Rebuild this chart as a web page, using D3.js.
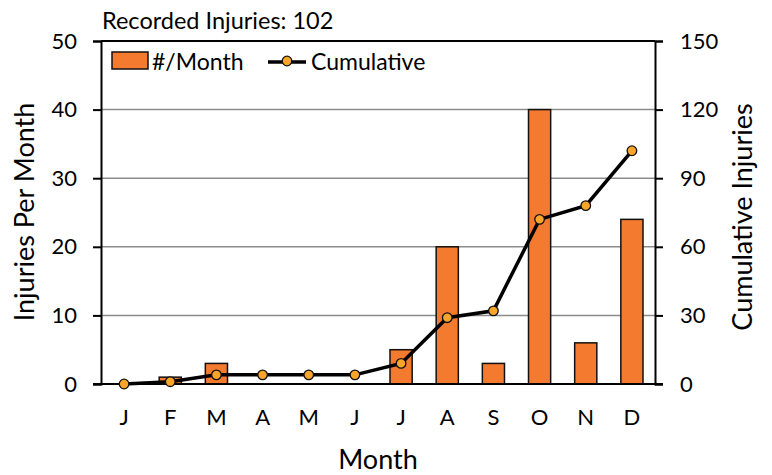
<!DOCTYPE html>
<html><head><meta charset="utf-8">
<script src="https://cdn.jsdelivr.net/npm/d3@7"></script>
<style>body{margin:0;background:#fff}text{font-family:Lato,"Open Sans",sans-serif;fill:#000}</style>
</head><body><svg id="c" width="772" height="475"></svg>
<script>
const months = ["J","F","M","A","M","J","J","A","S","O","N","D"];
const perMonth = [0,1,3,0,0,0,5,20,3,40,6,24];
const cumulative = [0,1,4,4,4,4,9,29,32,72,78,102];
const leftTicks = [0,10,20,30,40,50];
const rightTicks = [0,30,60,90,120,150];

const svg = d3.select("#c");
const L = 101, R = 655, T = 41, B = 384;
const xc = i => L + (R - L) / 12 * (i + 0.5);
const yL = d3.scaleLinear().domain([0, 50]).range([B, T]);
const yR = d3.scaleLinear().domain([0, 150]).range([B, T]);

// gridlines
svg.append("g").selectAll("line").data(leftTicks.filter(d => d > 0 && d < 50)).join("line")
  .attr("x1", L).attr("x2", R).attr("y1", d => yL(d)).attr("y2", d => yL(d))
  .attr("stroke", "#8c8c8c").attr("stroke-width", 1.5);
svg.append("line").attr("x1", L).attr("x2", R).attr("y1", T).attr("y2", T).attr("stroke", "#000").attr("stroke-width", 2);

// bars
const bw = (R - L) / 12 * 0.48;
svg.append("g").selectAll("rect").data(perMonth).join("rect")
  .attr("x", (d, i) => xc(i) - bw / 2).attr("width", bw)
  .attr("y", d => yL(d)).attr("height", d => B - yL(d))
  .attr("fill", "#F47A2F").attr("stroke", "#111").attr("stroke-width", 1.5)
  .attr("display", d => d > 0 ? null : "none");

// axes
const axL = svg.append("g").attr("transform", `translate(${L},0)`)
  .call(d3.axisLeft(yL).tickValues(leftTicks).tickSize(8).tickPadding(16));
const axR = svg.append("g").attr("transform", `translate(${R},0)`)
  .call(d3.axisRight(yR).tickValues(rightTicks).tickSize(8).tickPadding(17));
const axB = svg.append("g").attr("transform", `translate(0,${B})`)
  .call(d3.axisBottom(d3.scaleBand().domain(d3.range(12)).range([L, R])).tickFormat(i => months[i]).tickSize(0).tickPadding(25));
[axL, axR, axB].forEach(a => {
  a.select(".domain").attr("stroke", "#000").attr("stroke-width", 2);
  a.selectAll(".tick line").attr("stroke", "#000").attr("stroke-width", 2);
  a.selectAll("text").style("font-size", "22px").attr("fill", "#000");
});
axB.select(".domain").attr("d", `M${L - 8},0H${R + 8}`);

// line
svg.append("path").datum(cumulative)
  .attr("d", d3.line().x((d, i) => xc(i)).y(d => yR(d)))
  .attr("fill", "none").attr("stroke", "#000").attr("stroke-width", 3.5);
svg.append("g").selectAll("circle").data(cumulative).join("circle")
  .attr("cx", (d, i) => xc(i)).attr("cy", d => yR(d)).attr("r", 4.8)
  .attr("fill", "#F9A52B").attr("stroke", "#111").attr("stroke-width", 1.3);

// title & labels
svg.append("text").attr("x", 102).attr("y", 29).style("font-size", "23.5px").text("Recorded Injuries: 102");
svg.append("text").attr("transform", "translate(34,212) rotate(-90)").attr("text-anchor", "middle").style("font-size", "27px").text("Injuries Per Month");
svg.append("text").attr("transform", "translate(752,217) rotate(-90)").attr("text-anchor", "middle").style("font-size", "27px").text("Cumulative Injuries");
svg.append("text").attr("x", 378).attr("y", 469).attr("text-anchor", "middle").style("font-size", "27px").text("Month");

// legend
const lg = svg.append("g");
lg.append("rect").attr("x", 112).attr("y", 52).attr("width", 36).attr("height", 17).attr("fill", "#F47A2F").attr("stroke", "#111").attr("stroke-width", 1.5);
lg.append("text").attr("x", 152).attr("y", 70).style("font-size", "23px").text("#/Month");
lg.append("line").attr("x1", 268).attr("x2", 306).attr("y1", 62).attr("y2", 62).attr("stroke", "#000").attr("stroke-width", 3.5);
lg.append("circle").attr("cx", 287).attr("cy", 61).attr("r", 4.8).attr("fill", "#F9A52B").attr("stroke", "#111").attr("stroke-width", 1.3);
lg.append("text").attr("x", 311).attr("y", 70).style("font-size", "23px").text("Cumulative");
</script></body></html>
